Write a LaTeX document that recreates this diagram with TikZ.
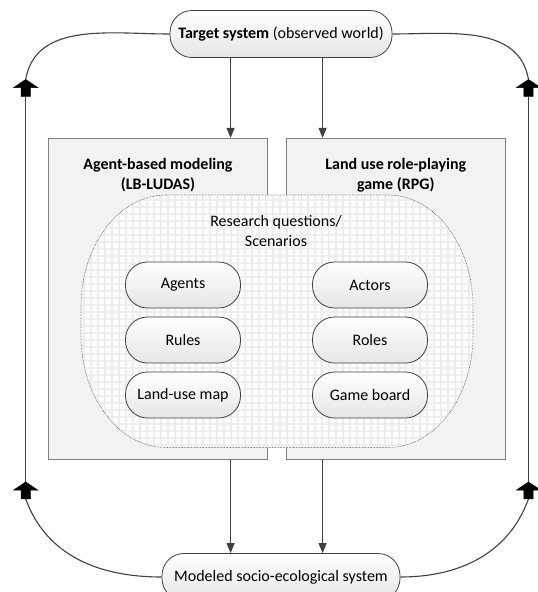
\documentclass[tikz,border=0pt]{standalone}
\usepackage{fontspec}
\setmainfont{Carlito}
\usetikzlibrary{arrows.meta, shapes.arrows, patterns.meta}

\begin{document}
\begin{tikzpicture}[x=1pt, y=-1pt, node distance=55pt,
        font=\fontsize{16}{20}\selectfont,
        pill/.style={draw=black!75, line width=0.8pt, rounded corners=22pt,
            top color=white, bottom color=black!10,
            minimum width=115pt, minimum height=46pt},
        tgt/.style={pill, minimum height=47pt},
        box/.style={draw=black!50, line width=0.8pt, fill=black!5,
            minimum width=219.5pt, minimum height=321.5pt},
        title/.style={align=center, font=\fontsize{16}{20}\selectfont\bfseries},
        flow/.style={draw=black!75, line width=1.1pt, -{Triangle[length=10pt,width=8pt]}},
        side/.style={draw=black!75, line width=1.1pt},
        blk/.style={single arrow, fill=black, draw=black, line width=0.4pt,
            shape border rotate=90, minimum height=17pt, inner sep=4.5pt,
            single arrow head extend=7.5pt, single arrow tip angle=112, outer sep=0pt}]
        \useasboundingbox (0,0) rectangle (538,592);
        % boxes of the two models
        \node[box] (abm) at (158,299)   {};
        \node[box] (rpg) at (395.8,299) {};
        \node[title] (abmt) at (158,175)   {Agent-based modeling\\(LB-LUDAS)};
        \node[title] (rpgt) at (395.8,175) {Land use role-playing\\game (RPG)};
        % shared part
        \draw[draw=black!70, line width=0.6pt, dash pattern=on 0.6pt off 0.9pt,
            preaction={fill=white},
            preaction={pattern={Lines[angle=0,distance=7pt,line width=2pt]}, pattern color=black!7},
            preaction={pattern={Lines[angle=90,distance=7pt,line width=2pt]}, pattern color=black!7}]
            (166,195) -- (388,195) arc[start angle=-90, end angle=0, x radius=85, y radius=112]
            -- (473,335.5) arc[start angle=0, end angle=90, x radius=85, y radius=112]
            -- (166,447.5) arc[start angle=90, end angle=180, x radius=85, y radius=112]
            -- (81,307) arc[start angle=180, end angle=270, x radius=85, y radius=112] -- cycle;
        \node[align=center] (rq) at (276,231) {Research questions/\\Scenarios};
        \node[pill] (agents) at (183,285)  {Agents};
        \node[pill] (rules)  [below of=agents] {Rules};
        \node[pill] (lmap)   [below of=rules]  {Land-use map};
        \node[pill] (actors) at (370,285)  {Actors};
        \node[pill] (roles)  [below of=actors] {Roles};
        \node[pill] (board)  [below of=roles]  {Game board};
        % systems
        \node[tgt, minimum width=222pt] (target)  at (281,34)  {\textbf{Target system} (observed world)};
        \node[tgt, minimum width=238pt] (modeled) at (281,577) {Modeled socio-ecological system};
        % feedback arrows
        \node[blk] (ltop) at (25.7,89.5)  {};
        \node[blk] (lbot) at (25.7,492)   {};
        \node[blk] (rtop) at (528.5,89.5) {};
        \node[blk] (rbot) at (528.5,492)  {};
        \coordinate (la) at (230.6,0);
        \coordinate (ra) at (322.6,0);
        \draw[flow] (target.south -| la) -- (abm.north -| la);
        \draw[flow] (target.south -| ra) -- (rpg.north -| ra);
        \draw[flow] (abm.south -| la)    -- (modeled.north -| la);
        \draw[flow] (rpg.south -| ra)    -- (modeled.north -| ra);
        \draw[side] (ltop.tail) -- (lbot.tip);
        \draw[side] (rtop.tail) -- (rbot.tip);
        \draw[side] (ltop.tip) to[out=80, in=180] (target.west);
        \draw[side] (rtop.tip) to[out=100, in=0] (target.east);
        \draw[side] (modeled.west) to[out=180, in=-70] (lbot.tail);
        \draw[side] (modeled.east) to[out=0, in=-110] (rbot.tail);
    \end{tikzpicture}
\end{document}
